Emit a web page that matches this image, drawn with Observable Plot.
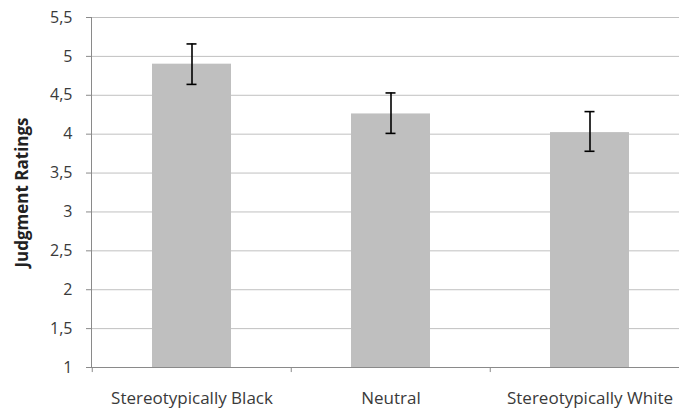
<!DOCTYPE html>
<html>
<head>
<meta charset="utf-8">
<script src="https://cdn.jsdelivr.net/npm/d3@7"></script>
<script src="https://cdn.jsdelivr.net/npm/@observablehq/plot@0.6"></script>
<style>
  html, body { margin: 0; padding: 0; background: #fff; }
  #chart { width: 690px; height: 411px; }
</style>
</head>
<body>
<div id="chart"></div>
<script>
const categories = ["Stereotypically Black", "Neutral", "Stereotypically White"];
const means = [4.90, 4.26, 4.02];
const lower = [4.64, 4.01, 3.78];
const upper = [5.16, 4.53, 4.29];
const yTicks = [1, 1.5, 2, 2.5, 3, 3.5, 4, 4.5, 5, 5.5];
const yLabel = "Judgment Ratings";

const data = categories.map((c, i) => ({cat: c, mean: means[i], lo: lower[i], hi: upper[i]}));

const gridColor = "#c0c0c0";
const axisColor = "#8a8a8a";
const textColor = "#3a3a3a";

const chart = Plot.plot({
  width: 690,
  height: 411,
  marginLeft: 91,
  marginRight: 11,
  marginTop: 17,
  marginBottom: 44,
  style: {fontFamily: "'Open Sans', sans-serif", fontSize: "14px", background: "#fff"},
  x: {domain: categories, range: [91, 689.5], paddingInner: 0.604, paddingOuter: 0.302, label: null, axis: null},
  y: {domain: [1, 5.5], label: null, axis: null},
  marks: [
    Plot.ruleY(yTicks.filter(t => t > 1), {stroke: gridColor, strokeWidth: 1}),
    Plot.barY(data, {x: "cat", y1: 1, y2: "mean", fill: "#bfbfbf"}),
    Plot.ruleY([1], {stroke: axisColor, strokeWidth: 1}),
    Plot.frame({anchor: "left", stroke: axisColor}),
    Plot.ruleX(categories, {x: d => d, y1: 1, y2: 0.935, dx: -99.75, stroke: axisColor}),
    Plot.ruleY(yTicks, {y: d => d, stroke: axisColor, insetLeft: -5, insetRight: 588}),
    Plot.ruleX(data, {x: "cat", y1: "lo", y2: "hi", stroke: "#000", strokeWidth: 1.6}),
    Plot.tickY(data, {x: "cat", y: "lo", stroke: "#000", strokeWidth: 1.6, insetLeft: 34.5, insetRight: 34.5}),
    Plot.tickY(data, {x: "cat", y: "hi", stroke: "#000", strokeWidth: 1.6, insetLeft: 34.5, insetRight: 34.5}),
    Plot.text(yTicks, {y: d => d, frameAnchor: "left", dx: -19, textAnchor: "end",
      text: d => String(d).replace(".", ","), fontSize: 16, fill: textColor}),
    Plot.text(categories, {x: d => d, y: 1, dy: 31, text: d => d, fontSize: 17, fill: textColor}),
    Plot.text([yLabel], {frameAnchor: "left", dx: -69, rotate: -90, textAnchor: "middle", text: d => d,
      fontWeight: "bold", fontSize: 17, fill: "#222"})
  ]
});
document.getElementById("chart").appendChild(chart);
</script>
</body>
</html>
